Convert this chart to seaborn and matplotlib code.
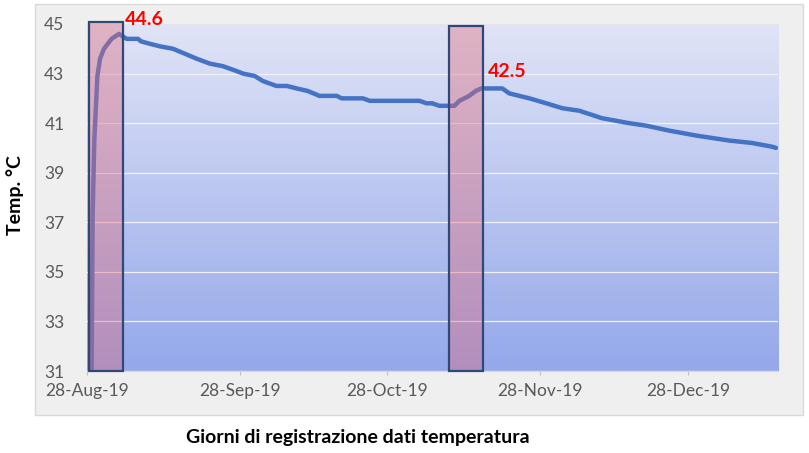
import numpy as np
import pandas as pd
import matplotlib
matplotlib.use("Agg")
import matplotlib.pyplot as plt
import matplotlib.dates as mdates
from matplotlib.patches import Rectangle
import seaborn as sns

# ---------------- data ----------------
dates = [
    "2019-08-29 00:00", "2019-08-29 05:00", "2019-08-29 13:00", "2019-08-30 04:00",
    "2019-08-30 17:00", "2019-08-31 12:00", "2019-09-02 01:00", "2019-09-03 13:00",
    "2019-09-05 02:00", "2019-09-07 10:00", "2019-09-08 00:00", "2019-09-09 20:00",
    "2019-09-11 20:00", "2019-09-14 12:00", "2019-09-16 22:00", "2019-09-19 07:00",
    "2019-09-22 00:00", "2019-09-24 14:00", "2019-09-27 10:00", "2019-09-28 17:00",
    "2019-10-01 02:00", "2019-10-02 17:00", "2019-10-05 12:00", "2019-10-07 14:00",
    "2019-10-09 14:00", "2019-10-11 19:00", "2019-10-14 05:00", "2019-10-17 17:00",
    "2019-10-18 17:00", "2019-10-23 00:00", "2019-10-24 10:00", "2019-11-03 12:00",
    "2019-11-04 22:00", "2019-11-06 02:00", "2019-11-07 12:00", "2019-11-09 19:00",
    "2019-11-10 14:00", "2019-11-11 14:00", "2019-11-13 14:00", "2019-11-14 22:00",
    "2019-11-16 00:00", "2019-11-20 07:00", "2019-11-21 17:00", "2019-11-25 19:00",
    "2019-11-29 05:00", "2019-12-02 12:00", "2019-12-05 22:00", "2019-12-10 12:00",
    "2019-12-16 00:00", "2019-12-19 10:00", "2019-12-24 02:00", "2019-12-29 14:00",
    "2020-01-05 05:00", "2020-01-09 22:00", "2020-01-14 00:00", "2020-01-14 19:00",
]
temps = [
    31.0, 37.3, 40.3, 42.9,
    43.6, 44.0, 44.4, 44.6,
    44.4, 44.4, 44.3, 44.2,
    44.1, 44.0, 43.8, 43.6,
    43.4, 43.3, 43.1, 43.0,
    42.9, 42.7, 42.5, 42.5,
    42.4, 42.3, 42.1, 42.1,
    42.0, 42.0, 41.9, 41.9,
    41.8, 41.8, 41.7, 41.7,
    41.7, 41.9, 42.1, 42.3,
    42.4, 42.4, 42.2, 42.0,
    41.8, 41.6, 41.5, 41.2,
    41.0, 40.9, 40.7, 40.5,
    40.3, 40.2, 40.05, 40.0,
]

# highlighted windows (start, end, top value)
window_starts = ["2019-08-28 11:00", "2019-11-09 10:00"]
window_ends = ["2019-09-04 07:00", "2019-11-16 10:00"]
window_tops = [45.1, 44.9]

# peak annotations
peak_dates = ["2019-09-03 13:00", "2019-11-16 00:00"]
peak_values = [44.6, 42.5]

x_min, x_max = "2019-08-28 00:00", "2020-01-15 05:00"
y_min, y_max = 31, 45
y_ticks = [31, 33, 35, 37, 39, 41, 43, 45]
x_ticks = ["2019-08-28", "2019-09-28", "2019-10-28", "2019-11-28", "2019-12-28"]

df = pd.DataFrame({"date": pd.to_datetime(dates), "temp": temps})

# ---------------- figure ----------------
sns.set_theme(style="white")
plt.rcParams["font.family"] = ["Lato", "DejaVu Sans"]

W, H = 809, 453
fig = plt.figure(figsize=(W / 100, H / 100), dpi=100)
fig.patch.set_facecolor("white")

# outer grey chart area
fig.patches.append(Rectangle((35 / W, 1 - 415 / H), (803 - 35) / W, (415 - 4) / H,
                             transform=fig.transFigure, facecolor="#EFEFEF",
                             edgecolor="#D9D9D9", linewidth=1.0, zorder=-5))

left, right, top, bottom = 86.7, 778, 24, 371
ax = fig.add_axes([left / W, 1 - bottom / H, (right - left) / W, (bottom - top) / H])
ax.set_zorder(2)
ax.set_facecolor("none")

xa = mdates.date2num(pd.Timestamp(x_min))
xb = mdates.date2num(pd.Timestamp(x_max))

# gradient plot background
top_c = np.array([224, 228, 247]) / 255
bot_c = np.array([148, 168, 234]) / 255
t = np.linspace(0, 1, 256)[:, None, None]
grad = top_c[None, None, :] * (1 - t) + bot_c[None, None, :] * t
ax.imshow(grad, extent=[xa, xb, y_min, y_max], aspect="auto", origin="upper",
          zorder=0, interpolation="bilinear")

# grid lines
for yv in y_ticks:
    ax.axhline(yv, color="#F2F2F8" if yv != y_max else "#E4E4EA", lw=0.9, zorder=1)

sns.lineplot(data=df, x="date", y="temp", ax=ax, color="#4472C4", lw=3.2,
             zorder=2, solid_joinstyle="round", solid_capstyle="round")

# highlight rectangles
for s, e, tp in zip(window_starts, window_ends, window_tops):
    s_n = mdates.date2num(pd.Timestamp(s))
    e_n = mdates.date2num(pd.Timestamp(e))
    ax.add_patch(Rectangle((s_n, y_min), e_n - s_n, tp - y_min,
                           facecolor=(0.88, 0.41, 0.47, 0.40), edgecolor="none",
                           zorder=3, clip_on=False))
    ax.add_patch(Rectangle((s_n, y_min), e_n - s_n, tp - y_min,
                           facecolor="none", edgecolor="#2F4878", linewidth=1.6,
                           zorder=4, clip_on=False))

# peak labels
for d, v in zip(peak_dates, peak_values):
    ax.annotate(f"{v:.1f}", xy=(mdates.date2num(pd.Timestamp(d)), v),
                xytext=(4.5, 10.5), textcoords="offset points",
                ha="left", va="center", color="#FF0000", fontsize=14,
                fontweight="bold", annotation_clip=False, zorder=5)

ax.set_xlim(xa, xb)
ax.set_ylim(y_min, y_max)
ax.set_yticks(y_ticks)
ax.set_xticks([mdates.date2num(pd.Timestamp(d)) for d in x_ticks])
ax.xaxis.set_major_formatter(mdates.DateFormatter("%d-%b-%y"))
ax.tick_params(axis="y", length=0, pad=16, labelsize=12.5, labelcolor="#595959")
ax.tick_params(axis="x", length=3, width=0.8, color="#BFBFBF", pad=5.5,
               labelsize=12.5, labelcolor="#595959", bottom=True)
for sp in ["top", "right", "left"]:
    ax.spines[sp].set_visible(False)
ax.spines["bottom"].set_color("#D9D9D9")
ax.spines["bottom"].set_linewidth(0.8)
ax.set_xlabel("")
ax.set_ylabel("")
ax.grid(False)

fig.text(358 / W, 1 - 437 / H, "Giorni di registrazione dati temperatura",
         ha="center", va="center", fontsize=14, fontweight="bold", color="black")
fig.text(15 / W, 1 - 195 / H, "Temp. °C", rotation=90,
         ha="center", va="center", fontsize=14, fontweight="bold", color="black")

fig.savefig("out.png", dpi=100)
